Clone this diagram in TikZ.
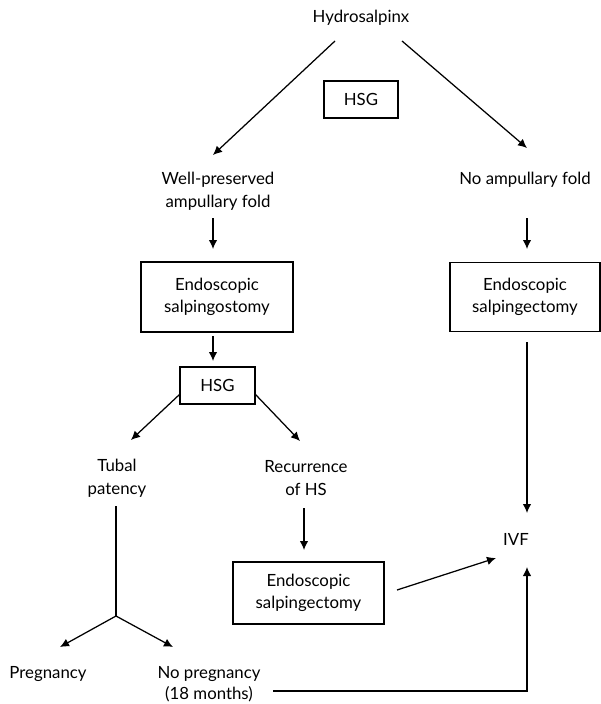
\documentclass[tikz,border=0pt]{standalone}
\usepackage{fontspec}
\setmainfont{Lato}
\usetikzlibrary{arrows.meta,calc}
\begin{document}
\begin{tikzpicture}[x=1pt,y=-1pt,
  lbl/.style={inner sep=0pt,align=center,font=\fontsize{16.8}{22.5}\selectfont},
  boxnode/.style={draw,line width=1.25pt,inner sep=0pt,align=center,font=\fontsize{16.8}{22.5}\selectfont},
  arr/.style={line width=1.25pt,-{Latex[length=9pt,width=8.5pt]}},
  ln/.style={line width=1.25pt}]
\useasboundingbox (0,0) rectangle (600,704);
% nodes
\node[lbl] (hyd) at (361,18) {Hydrosalpinx};
\node[boxnode,minimum width=74pt,minimum height=37pt] (hsga) at (361,99.5) {HSG};
\node[lbl] (wp) at (218,191.5) {Well-preserved\\ampullary fold};
\node[lbl] (noamp) at (525,180) {No ampullary fold};
\node[boxnode,minimum width=152pt,minimum height=70pt] (stomy) at (217,297) {Endoscopic\\salpingostomy};
\node[boxnode,minimum width=150pt,minimum height=69pt] (ectr) at (525,297) {Endoscopic\\salpingectomy};
\node[boxnode,minimum width=75pt,minimum height=37pt] (hsgb) at (217.5,385.5) {HSG};
\node[lbl] (tubal) at (117,478) {Tubal\\patency};
\node[lbl] (recur) at (306,478) {Recurrence\\of HS};
\node[boxnode,minimum width=151pt,minimum height=62pt] (ectl) at (308.5,593) {Endoscopic\\salpingectomy};
\node[lbl] (ivf) at (516,539) {IVF};
\node[lbl] (preg) at (48,674) {Pregnancy};
\node[lbl,font=\fontsize{16.8}{21.5}\selectfont] (nopreg) at (209,684) {No pregnancy\\(18 months)};
% connector end points
\coordinate (hydL) at (335,41);
\coordinate (hydR) at (402,41);
\coordinate (wpT) at (213,155);
\coordinate (naT) at (527,148);
\coordinate (wpB) at (213,218);
\coordinate (stT) at (213,249);
\coordinate (naB) at (527,218);
\coordinate (erT) at (527,249);
\coordinate (stB) at (213,336);
\coordinate (hbT) at (213,361);
\coordinate (tuT) at (131,440);
\coordinate (reT) at (300,441);
\coordinate (tuB) at (116,506);
\coordinate (fork) at (116,616);
\coordinate (prT) at (60,647);
\coordinate (npT) at (173,647);
\coordinate (reB) at (304,508);
\coordinate (elT) at (304,550);
\coordinate (elR) at (397,590);
\coordinate (ivfL) at (496,558);
\coordinate (erB) at (527,342);
\coordinate (ivfT) at (527,513);
\coordinate (npR) at (273,691);
\coordinate (corner) at (527,691);
\coordinate (ivfB) at (527,567);
% connectors
\draw[arr] (hydL) -- (wpT);
\draw[arr] (hydR) -- (naT);
\draw[arr] (wpB) -- (stT);
\draw[arr] (naB) -- (erT);
\draw[arr] (stB) -- (hbT);
\draw[arr] (hsgb.south west) ++(0,-10) -- (tuT);
\draw[arr] (hsgb.south east) ++(0,-10) -- (reT);
\draw[ln] (tuB) -- (fork);
\draw[arr] (fork) -- (prT);
\draw[arr] (fork) -- (npT);
\draw[arr] (reB) -- (elT);
\draw[arr] (elR) -- (ivfL);
\draw[arr] (erB) -- (ivfT);
\draw[arr] (npR) -- (corner) -- (ivfB);
\end{tikzpicture}
\end{document}
